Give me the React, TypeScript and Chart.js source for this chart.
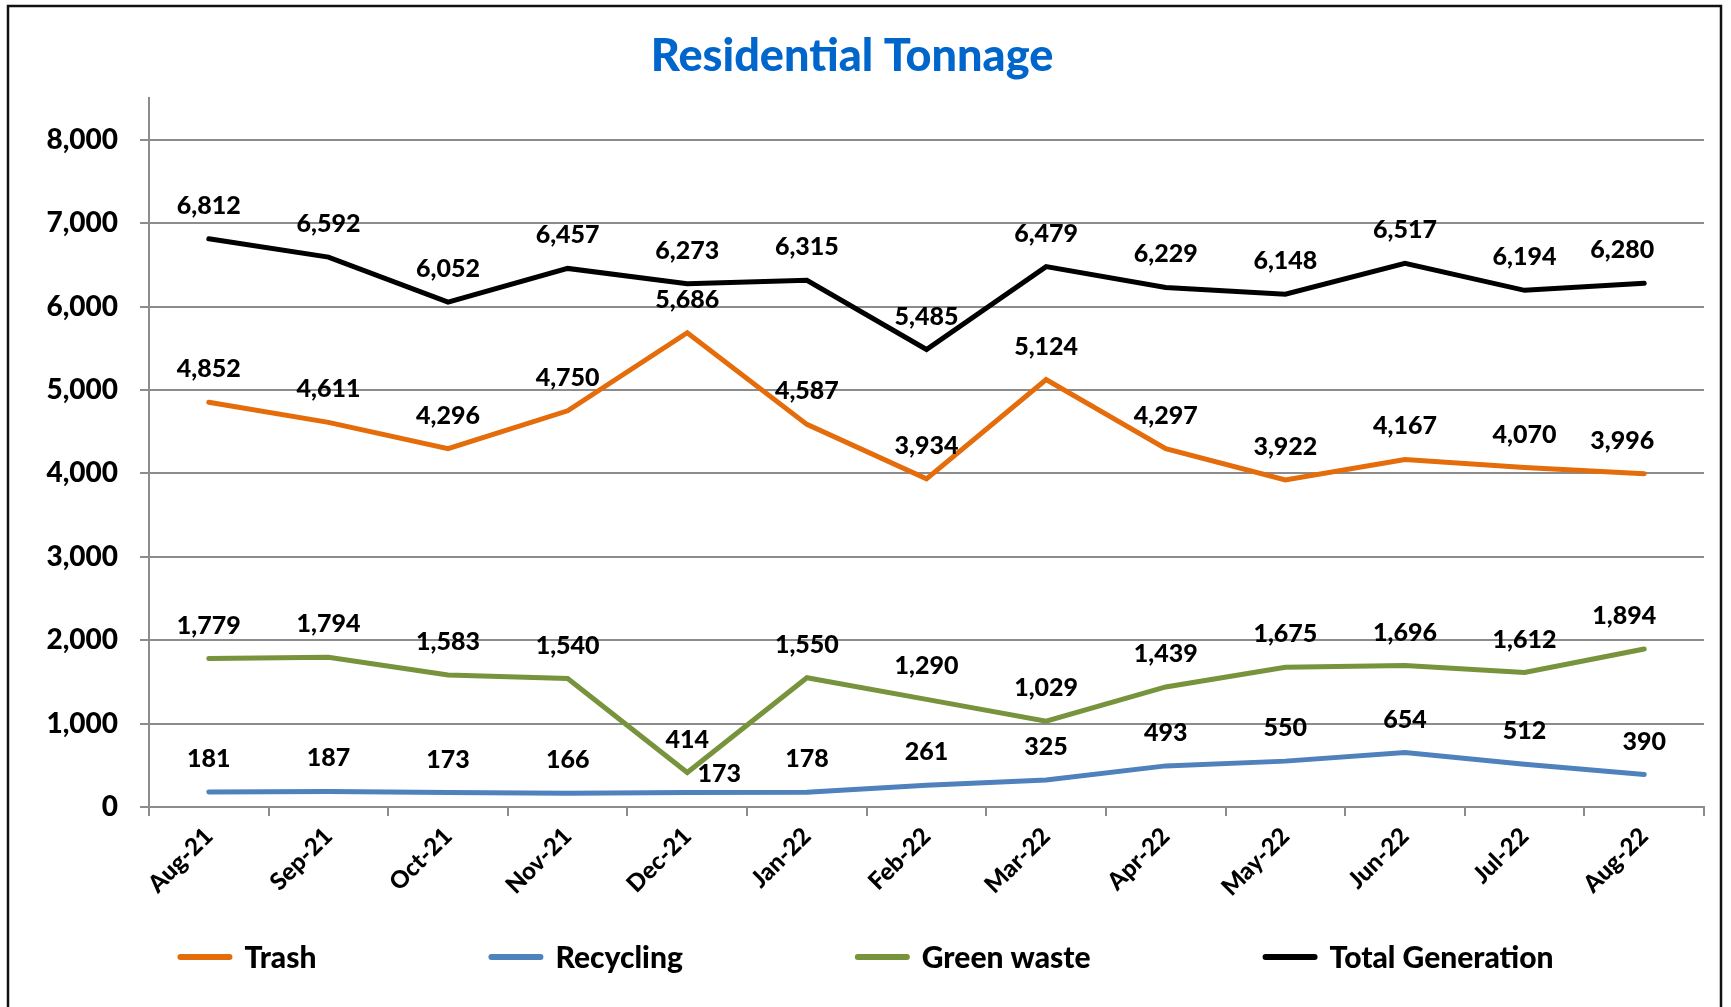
import React, { useEffect, useRef } from "react";
import { Chart, registerables } from "chart.js";

Chart.register(...registerables);

const categories = ["Aug-21", "Sep-21", "Oct-21", "Nov-21", "Dec-21", "Jan-22", "Feb-22", "Mar-22", "Apr-22", "May-22", "Jun-22", "Jul-22", "Aug-22"];
const trash = [4852, 4611, 4296, 4750, 5686, 4587, 3934, 5124, 4297, 3922, 4167, 4070, 3996];
const recycling = [181, 187, 173, 166, 173, 178, 261, 325, 493, 550, 654, 512, 390];
const greenWaste = [1779, 1794, 1583, 1540, 414, 1550, 1290, 1029, 1439, 1675, 1696, 1612, 1894];
const totalGeneration = [6812, 6592, 6052, 6457, 6273, 6315, 5485, 6479, 6229, 6148, 6517, 6194, 6280];
const seriesNames = ["Trash", "Recycling", "Green waste", "Total Generation"];
const yTicks = [0, 1000, 2000, 3000, 4000, 5000, 6000, 7000, 8000];
const titleText = "Residential Tonnage";

const COLORS = ["#E46C0A", "#4F81BD", "#77933C", "#000000"];
const FONT = "Lato, 'Open Sans', sans-serif";
const GRID = "#8c8c8c";

const fmt = (v: number) => v.toLocaleString("en-US");

// label placement tweaks (style only): key "dataset:index" -> [dx, dy]
const labelShift: Record<string, [number, number]> = {
  "1:4": [32, 14],
  "0:12": [-22, 0],
  "2:12": [-20, 0],
  "3:12": [-22, 0],
};

const dataLabels = {
  id: "dataLabels",
  afterDatasetsDraw(chart: any) {
    const ctx = chart.ctx;
    ctx.save();
    ctx.font = `900 25px ${FONT}`;
    ctx.fillStyle = "#000";
    ctx.textAlign = "center";
    ctx.textBaseline = "middle";
    chart.data.datasets.forEach((ds: any, di: number) => {
      const meta = chart.getDatasetMeta(di);
      meta.data.forEach((pt: any, i: number) => {
        const s = labelShift[`${di}:${i}`] || [0, 0];
        ctx.fillText(fmt(ds.data[i]), pt.x + s[0], pt.y - 33 + s[1]);
      });
    });
    ctx.restore();
  },
};

const bottomLegend = {
  id: "bottomLegend",
  afterDraw(chart: any) {
    const ctx = chart.ctx;
    ctx.save();
    ctx.font = `900 30px ${FONT}`;
    const lineLen = 55;
    const gap1 = 12;
    const gap = 172;
    const items = chart.data.datasets.map((ds: any) => ({
      text: ds.label,
      color: ds.borderColor,
      w: lineLen + gap1 + ctx.measureText(ds.label).width,
    }));
    const total = items.reduce((a: number, it: any) => a + it.w, 0) + gap * (items.length - 1);
    let x = chart.width / 2 - total / 2;
    const y = chart.height - 50;
    items.forEach((it: any) => {
      ctx.strokeStyle = it.color;
      ctx.lineWidth = 6;
      ctx.lineCap = "round";
      ctx.beginPath();
      ctx.moveTo(x + 3, y);
      ctx.lineTo(x + lineLen - 3, y);
      ctx.stroke();
      ctx.fillStyle = "#000";
      ctx.textAlign = "left";
      ctx.textBaseline = "middle";
      ctx.fillText(it.text, x + lineLen + gap1, y + 1);
      x += it.w + gap;
    });
    ctx.restore();
  },
};

const frame = {
  id: "frame",
  beforeDraw(chart: any) {
    const ctx = chart.ctx;
    ctx.save();
    ctx.fillStyle = "#fff";
    ctx.fillRect(0, 0, chart.width, chart.height);
    ctx.strokeStyle = "#111";
    ctx.lineWidth = 2.5;
    ctx.strokeRect(8, 6, 1713, 1100);
    ctx.restore();
  },
};

export default function App() {
  const ref = useRef<HTMLCanvasElement | null>(null);
  useEffect(() => {
    if (!ref.current) return;
    const values = [trash, recycling, greenWaste, totalGeneration];
    const chart = new Chart(ref.current, {
      type: "line",
      data: {
        labels: categories,
        datasets: values.map((d, i) => ({
          label: seriesNames[i],
          data: d,
          borderColor: COLORS[i],
          backgroundColor: COLORS[i],
          borderWidth: 5,
          borderCapStyle: "round" as const,
          pointRadius: 0,
          pointHoverRadius: 0,
          tension: 0,
          fill: false,
        })),
      },
      options: {
        responsive: false,
        animation: false,
        devicePixelRatio: 1,
        layout: { padding: { left: 0, right: 27, top: 0, bottom: 90 } },
        plugins: {
          legend: { display: false },
          tooltip: { enabled: false },
          title: {
            display: true,
            text: titleText,
            color: "#0066CC",
            font: { family: FONT, size: 45, weight: "900", lineHeight: 1.2 },
            padding: { top: 29, bottom: 15 },
          },
        },
        scales: {
          x: {
            type: "category",
            offset: true,
            grid: {
              offset: true,
              drawOnChartArea: false,
              drawTicks: true,
              tickLength: 9,
              color: GRID,
              lineWidth: 2,
            },
            border: { display: true, color: GRID, width: 2 },
            ticks: {
              minRotation: 45,
              maxRotation: 45,
              autoSkip: false,
              padding: 6,
              color: "#000",
              font: { family: FONT, size: 24, weight: "900" },
            },
            afterFit(scale: any) {
              scale.height = 110;
            },
          },
          y: {
            min: 0,
            max: 8500,
            grid: {
              color: GRID,
              lineWidth: 2,
              drawTicks: true,
              tickLength: 9,
            },
            border: { display: true, color: GRID, width: 2 },
            afterBuildTicks(scale: any) {
              scale.ticks = yTicks.map((v) => ({ value: v }));
            },
            ticks: {
              includeBounds: false,
              padding: 22,
              color: "#000",
              font: { family: FONT, size: 28, weight: "900" },
              callback: (v: any) => fmt(Number(v)),
            },
            afterFit(scale: any) {
              scale.width = 149;
            },
          },
        },
      },
      plugins: [frame, dataLabels, bottomLegend],
    });
    return () => chart.destroy();
  }, []);
  return (
    <div style={{ position: "fixed", left: 0, top: 0, width: 1731, height: 1007, background: "#fff" }}>
      <canvas ref={ref} width={1731} height={1007} style={{ display: "block", width: 1731, height: 1007 }} />
    </div>
  );
}
